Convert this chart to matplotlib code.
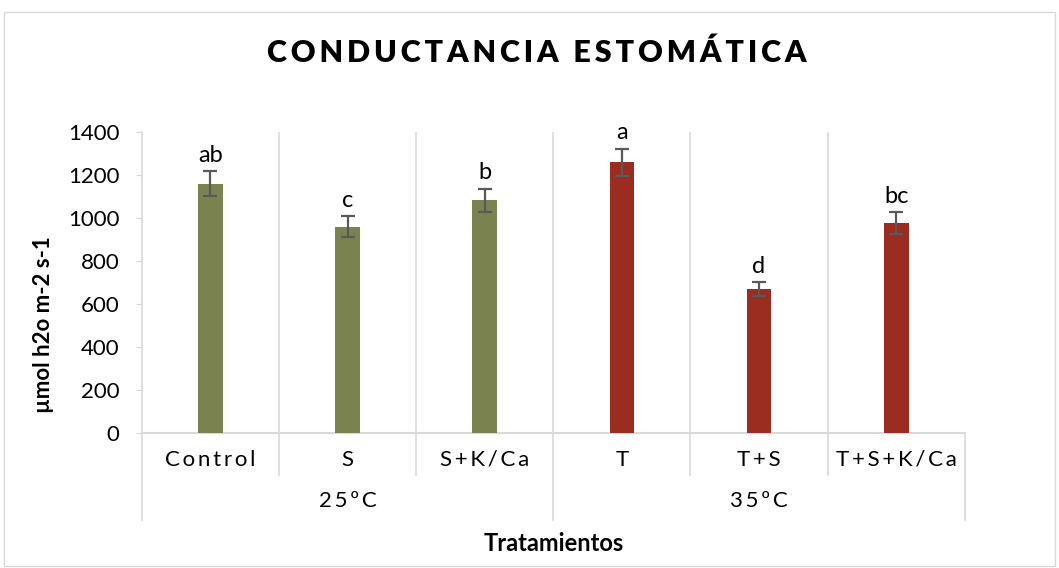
import matplotlib.pyplot as plt
import numpy as np

plt.rcParams['font.family'] = ['Lato', 'DejaVu Sans']

# datos
tratamientos = ['Control', 'S', 'S+K/Ca', 'T', 'T+S', 'T+S+K/Ca']
temperaturas = ['25ºC', '35ºC']
conductancia = [1160, 960, 1082, 1260, 668, 976]
error = [58, 48, 54, 63, 33, 50]
letras = ['ab', 'c', 'b', 'a', 'd', 'bc']
colores = ['#7a834f'] * 3 + ['#9b2d20'] * 3

def espaciar(s, sep='\u2009'):
    return sep.join(s)

fig = plt.figure(figsize=(10.59, 5.68), dpi=100)
ax = fig.add_axes([0.134, 0.2377, 0.777, 0.530])

x = np.arange(len(tratamientos))
ax.bar(x, conductancia, width=0.18, color=colores, zorder=3)
ax.errorbar(x, conductancia, yerr=error, fmt='none', ecolor='#595959',
            elinewidth=1.6, capsize=5, capthick=1.6, zorder=4)
for xi, v, e, l in zip(x, conductancia, error, letras):
    ax.text(xi, v + e + 25, l, ha='center', va='bottom', fontsize=17)

ax.set_xlim(-0.5, len(tratamientos) - 0.5)
ax.set_ylim(0, 1400)
ax.set_yticks(range(0, 1401, 200))
ax.tick_params(axis='y', labelsize=16, length=4, color='#d9d9d9', pad=12)
ax.set_xticks(x)
ax.set_xticklabels([espaciar(t) for t in tratamientos], fontsize=16)
ax.tick_params(axis='x', length=0, pad=12)

# lineas verticales de las categorias
for b in np.arange(0.5, len(tratamientos) - 1, 1.0):
    ax.axvline(b, color='#d9d9d9', lw=1.2, zorder=1)
for s in ['top', 'right']:
    ax.spines[s].set_visible(False)
ax.spines['left'].set_color('#d9d9d9')
ax.spines['left'].set_linewidth(1.2)
ax.spines['bottom'].set_color('#d9d9d9')
ax.spines['bottom'].set_linewidth(1.5)

# ejes jerarquicos debajo
for b in np.arange(0.5, len(tratamientos) - 1, 1.0):
    if b == 2.5:
        continue
    ax.plot([b, b], [0, -0.14], transform=ax.get_xaxis_transform(),
            color='#d9d9d9', lw=1.2, clip_on=False)
for b in [-0.5, 2.5, 5.5]:
    ax.plot([b, b], [0, -0.29], transform=ax.get_xaxis_transform(),
            color='#d9d9d9', lw=1.2, clip_on=False)
for i, t in enumerate(temperaturas):
    ax.text(1 + 3 * i, -0.225, espaciar(t), transform=ax.get_xaxis_transform(),
            ha='center', va='center', fontsize=16)

fig.text(0.041, 0.428, 'µmol h2o m-2 s-1', rotation=90, ha='center',
         va='center', fontsize=16, fontweight='bold')
fig.text(0.523, 0.044, 'Tratamientos', ha='center', va='center',
         fontsize=17, fontweight='bold')
fig.text(0.507, 0.908, espaciar('CONDUCTANCIA ESTOMÁTICA', '\u2009'),
         ha='center', va='center', fontsize=22, fontweight='heavy')

# borde del grafico
fig.patches.append(plt.Rectangle((0.004, 0.004), 0.992, 0.975,
                                 transform=fig.transFigure, fill=False,
                                 edgecolor='#d9d9d9', lw=1))

fig.savefig('out.png', dpi=100)
